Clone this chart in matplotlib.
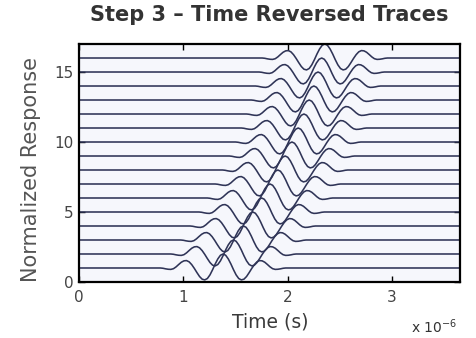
import matplotlib
matplotlib.use("Agg")
import matplotlib.pyplot as plt
import numpy as np

# ---- data ----
trace_offsets = list(range(1, 17))  # baseline of each trace (normalized response offset)
# arrival (centre) time of each trace's wavelet, in microseconds
arrival_us = [1.380, 1.480, 1.575, 1.665, 1.750, 1.830, 1.905, 1.975,
              2.040, 2.100, 2.155, 2.205, 2.250, 2.290, 2.325, 2.355]
# wavelet shape: time offset from centre (microseconds) and normalized amplitude
wavelet_dt_us = [-0.600, -0.575, -0.550, -0.525, -0.500, -0.475, -0.450, -0.425,
                 -0.400, -0.375, -0.350, -0.325, -0.300, -0.275, -0.250, -0.225,
                 -0.200, -0.175, -0.150, -0.125, -0.100, -0.075, -0.050, -0.025,
                 0.000,
                 0.025, 0.050, 0.075, 0.100, 0.125, 0.150, 0.175, 0.200,
                 0.225, 0.250, 0.275, 0.300, 0.325, 0.350, 0.375, 0.400,
                 0.425, 0.450, 0.475, 0.500, 0.525, 0.550, 0.575, 0.600]
wavelet_amp = [0.00, -0.02, -0.06, -0.09, -0.10, -0.05, 0.08, 0.25,
               0.41, 0.51, 0.53, 0.44, 0.24, -0.03, -0.33, -0.61,
               -0.80, -0.85, -0.75, -0.49, -0.12, 0.29, 0.65, 0.91,
               1.00,
               0.91, 0.65, 0.29, -0.12, -0.49, -0.75, -0.85, -0.80,
               -0.61, -0.33, -0.03, 0.24, 0.44, 0.53, 0.51, 0.41,
               0.25, 0.08, -0.05, -0.10, -0.09, -0.06, -0.02, 0.00]
t_start_us, t_end_us = 0.0, 3.65
xticks = [0, 1, 2, 3]
yticks = [0, 5, 10, 15]

plt.rcParams['font.family'] = ['DejaVu Sans']

fig = plt.figure(figsize=(4.77, 3.38), dpi=100)
ax = fig.add_axes([0.1656, 0.1657, 0.7988, 0.7041])
ax.set_facecolor('#f6f7fc')

line_color = '#2f3457'
for base, tc in zip(trace_offsets, arrival_us):
    t = [t_start_us] + [tc + d for d in wavelet_dt_us] + [t_end_us]
    y = [base] + [base + a for a in wavelet_amp] + [base]
    ax.plot(np.array(t) * 1e-6, y, color=line_color, lw=1.15, solid_joinstyle='round')

ax.set_xlim(t_start_us * 1e-6, t_end_us * 1e-6)
ax.set_ylim(0, 17)
ax.set_xticks(np.array(xticks) * 1e-6)
ax.set_xticklabels([str(v) for v in xticks])
ax.set_yticks(yticks)
ax.set_yticklabels([str(v) for v in yticks])
ax.tick_params(direction='in', top=True, right=True, length=4, width=1,
               labelsize=11, labelcolor='#444444', pad=4, color='black')
ax.tick_params(axis='x', pad=6)
for s in ax.spines.values():
    s.set_linewidth(1.6)
    s.set_color('black')

fig.text(0.565, 0.955, 'Step 3 \u2013 Time Reversed Traces', fontsize=15, fontweight='bold',
         color='#333333', ha='center', va='center')
fig.text(0.567, 0.047, 'Time (s)', fontsize=13.5, color='#3a3a3a', ha='center', va='center')
fig.text(0.066, 0.50, 'Normalized Response', fontsize=15, color='#555555',
         ha='center', va='center', rotation=90)
fig.text(0.91, 0.033, 'x 10$^{-6}$', fontsize=10, color='#333333', ha='center', va='center')

fig.savefig('out.png', dpi=100, facecolor='white')
